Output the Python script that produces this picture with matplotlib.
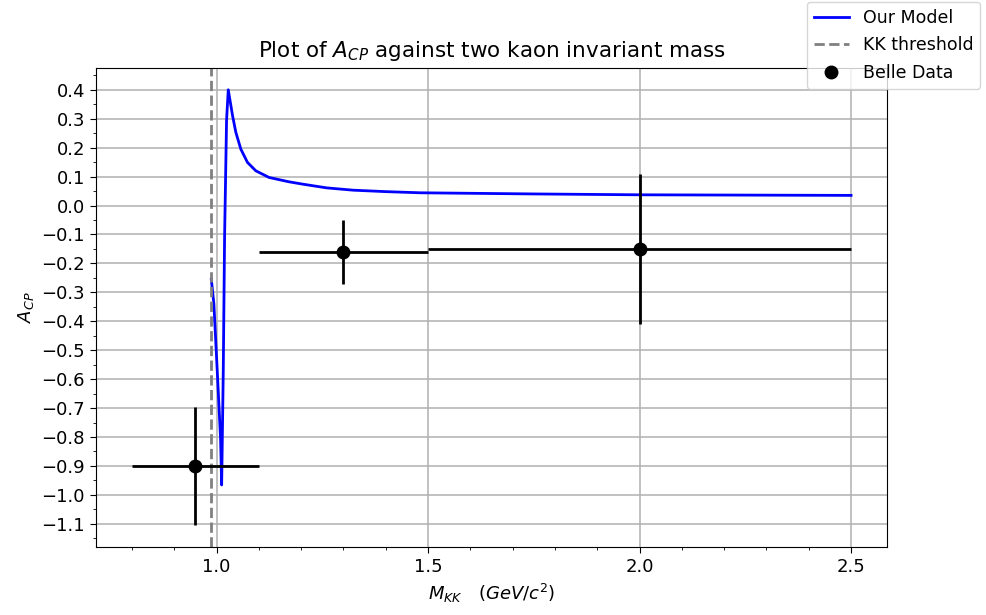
import numpy as np
import matplotlib.pyplot as plt
from matplotlib.ticker import MultipleLocator

# model curve
m_model = [0.9875, 0.9936, 1.0016, 1.0094, 1.012, 1.0158, 1.0189, 1.0236, 1.0276,
           1.0377, 1.0455, 1.0573, 1.073, 1.0927, 1.124, 1.171, 1.203, 1.26, 1.323,
           1.40, 1.481, 1.75, 2.0, 2.25, 2.5]
acp_model = [-0.255, -0.34, -0.573, -0.805, -0.966, -0.573, -0.11, 0.295, 0.400,
             0.311, 0.253, 0.195, 0.149, 0.120, 0.097, 0.082, 0.074, 0.061, 0.053,
             0.048, 0.044, 0.040, 0.037, 0.036, 0.035]

# Belle data
m_belle = [0.95, 1.3, 2.0]
acp_belle = [-0.90, -0.16, -0.15]
m_err = [0.15, 0.2, 0.5]
acp_err = [0.205, 0.11, 0.26]

kk_threshold = 2 * 0.4937

plt.rcParams["xtick.labelsize"] = 13
plt.rcParams["ytick.labelsize"] = 13
plt.rcParams["xtick.major.size"] = 4.5
plt.rcParams["ytick.major.size"] = 4.5
plt.rcParams["xtick.minor.size"] = 2.5
plt.rcParams["ytick.minor.size"] = 2.5

fig = plt.figure(figsize=(9.87, 6.15), dpi=100)
ax = fig.add_axes([0.0973, 0.1106, 0.8014, 0.7788])

ax.plot(m_model, acp_model, color="blue", lw=2, label="Our Model")
ax.axvline(kk_threshold, color="grey", ls="--", lw=2, label="KK threshold")
ax.errorbar(m_belle, acp_belle, xerr=m_err, yerr=acp_err, fmt="none", ecolor="black", elinewidth=2)
ax.plot(m_belle, acp_belle, "o", color="black", ms=9, ls="none", label="Belle Data")

ax.set_xlim(0.715, 2.585)
ax.yaxis.set_major_locator(MultipleLocator(0.1))
ax.yaxis.set_minor_locator(MultipleLocator(0.05))
ax.xaxis.set_major_locator(MultipleLocator(0.5))
ax.xaxis.set_minor_locator(MultipleLocator(0.1))
ax.grid(True, which="major", lw=1.1)

ax.set_title("Plot of $A_{CP}$ against two kaon invariant mass", fontsize=15.5, pad=8)
ax.set_xlabel(r"$M_{KK}\quad(GeV/c^2)$", fontsize=13)
ax.set_ylabel("$A_{CP}$", fontsize=13)
ax.legend(loc="upper right", bbox_to_anchor=(0.993, 0.997), bbox_transform=fig.transFigure,
          borderaxespad=0, fontsize=12.5, labelspacing=0.55)

plt.savefig("out.png")
